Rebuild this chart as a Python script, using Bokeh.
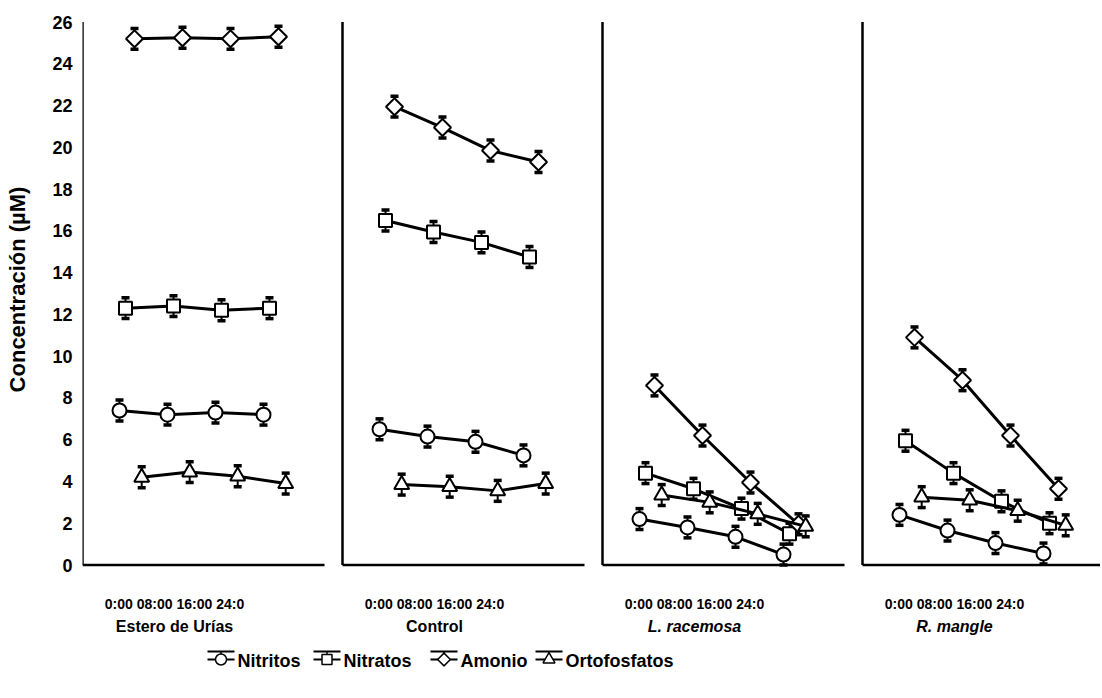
import math
from bokeh.plotting import figure
from bokeh.layouts import column
from bokeh.models import Range1d, FixedTicker, Whisker, TeeHead, ColumnDataSource
from bokeh.core.properties import value
from bokeh.embed import file_html
from bokeh.resources import INLINE

# ---------------- data ----------------
sites = ["Estero de Urías", "Control", "L. racemosa", "R. mangle"]
site_italic = [False, False, True, True]
time_labels = ["0:00", "08:00", "16:00", "24:0"]
hours = [0, 8, 16, 24]
series_names = ["Nitritos", "Nitratos", "Amonio", "Ortofosfatos"]

# values per site (Estero de Urías, Control, L. racemosa, R. mangle)
nitritos = [[7.4, 7.2, 7.3, 7.2],
            [6.5, 6.15, 5.9, 5.25],
            [2.2, 1.8, 1.35, 0.5],
            [2.4, 1.65, 1.05, 0.55]]
nitratos = [[12.3, 12.4, 12.2, 12.3],
            [16.5, 15.95, 15.45, 14.75],
            [4.4, 3.65, 2.7, 1.5],
            [5.95, 4.4, 3.05, 2.0]]
amonio = [[25.2, 25.25, 25.2, 25.3],
          [21.95, 20.95, 19.85, 19.3],
          [8.6, 6.2, 3.95, 1.95],
          [10.9, 8.85, 6.2, 3.65]]
ortofosfatos = [[4.2, 4.45, 4.25, 3.9],
                [3.85, 3.75, 3.55, 3.9],
                [3.35, 3.0, 2.45, 1.85],
                [3.25, 3.1, 2.6, 1.9]]
nitritos_err = [[0.5] * 4 for _ in range(4)]
nitratos_err = [[0.5] * 4 for _ in range(4)]
amonio_err = [[0.5] * 4 for _ in range(4)]
ortofosfatos_err = [[0.5] * 4 for _ in range(4)]

y_ticks = list(range(0, 27, 2))

# ---------------- layout constants ----------------
FONT = "Liberation Sans"
W = 1100
LEFT_PX = 82                 # frame left edge on page
PX = 6.0                     # screen px per hour
FRAME_W = W - LEFT_PX
PANEL_STEP = 260 / PX        # distance between panels (x units)
PANEL_W = 242 / PX
FIRST_OFF = 37 / PX          # first time point from panel edge
LABEL_OFF = 92 / PX          # centre of the panel captions from panel edge
H_TOP = 578
H_BOT = 118
PX_PER_Y = 20.88
Y0_PX = 564.5                # page y of value 0
TOP_BORDER = 0
Y_TOP = (Y0_PX - TOP_BORDER) / PX_PER_Y
Y_BOT = -(H_TOP - Y0_PX) / PX_PER_Y

series_vals = [nitritos, nitratos, amonio, ortofosfatos]
series_err = [nitritos_err, nitratos_err, amonio_err, ortofosfatos_err]
series_offset = [0.0, 1.0, 2.5, 3.7]
series_marker = ["circle", "square", "square", "triangle"]
series_angle = [0.0, 0.0, math.pi / 4, 0.0]
series_size = [14, 13, 12, 15]

xr = Range1d(0, FRAME_W / PX)

p = figure(width=W, height=H_TOP, output_backend="svg", toolbar_location=None,
           x_range=xr, y_range=Range1d(Y_BOT, Y_TOP),
           min_border_left=LEFT_PX, min_border_right=0, min_border_top=TOP_BORDER,
           min_border_bottom=0)
p.xaxis.visible = False
p.grid.visible = False
p.outline_line_color = None

yax = p.yaxis[0]
yax.ticker = FixedTicker(ticks=y_ticks)
yax.axis_line_color = None
yax.major_tick_line_color = None
yax.minor_tick_line_color = None
yax.major_tick_out = 0
yax.major_label_standoff = 10
yax.major_label_text_font = FONT
yax.major_label_text_font_style = "bold"
yax.major_label_text_font_size = "18px"
yax.major_label_text_color = "black"
yax.axis_label = "Concentración (µM)"
yax.axis_label_text_font = FONT
yax.axis_label_text_font_style = "bold"
yax.axis_label_text_font_size = "22px"
yax.axis_label_text_color = "black"
yax.axis_label_standoff = 19

# panel frames (vertical line at left + baseline)
lefts = [i * PANEL_STEP for i in range(len(sites))]
p.segment(x0=lefts, y0=[0] * 4, x1=lefts, y1=[26] * 4, line_color="black", line_width=2.5)
p.segment(x0=lefts, y0=[0] * 4, x1=[l + PANEL_W for l in lefts], y1=[0] * 4,
          line_color="black", line_width=2.5)

for i in range(len(sites)):
    base = lefts[i] + FIRST_OFF
    for k, name in enumerate(series_names):
        xs = [base + h + series_offset[k] for h in hours]
        ys = series_vals[k][i]
        es = series_err[k][i]
        src = ColumnDataSource(dict(x=xs, y=ys,
                                    upper=[y + e for y, e in zip(ys, es)],
                                    lower=[y - e for y, e in zip(ys, es)]))
        w = Whisker(base="x", upper="upper", lower="lower", source=src,
                    line_color="black", line_width=2,
                    upper_head=TeeHead(size=8, line_width=3.5, line_color="black"),
                    lower_head=TeeHead(size=8, line_width=3.5, line_color="black"),
                    level="underlay")
        p.add_layout(w)
        p.line("x", "y", source=src, line_color="black", line_width=3)
        p.scatter("x", "y", source=src, marker=series_marker[k], size=series_size[k],
                  angle=series_angle[k], fill_color="white", line_color="black",
                  line_width=2)

# ---------------- bottom strip: captions + legend ----------------
q = figure(width=W, height=H_BOT, output_backend="svg", toolbar_location=None,
           x_range=xr, y_range=Range1d(H_BOT, 0),
           min_border_left=LEFT_PX, min_border_right=0, min_border_top=0, min_border_bottom=0)
q.axis.visible = False
q.grid.visible = False
q.outline_line_color = None

ROW_TICKS = 603 - H_TOP
ROW_NAMES = 626 - H_TOP
tick_text = " ".join(time_labels)
label_x = [l + LABEL_OFF for l in lefts]
q.text(x=label_x, y=[ROW_TICKS] * 4, text=[tick_text] * 4, text_align="center",
       text_baseline="middle", text_font=value(FONT), text_font_style="bold",
       text_font_size="14px", text_color="black")
for italic in (False, True):
    xs = [label_x[i] for i in range(4) if site_italic[i] == italic]
    ts = [sites[i] for i in range(4) if site_italic[i] == italic]
    q.text(x=xs, y=[ROW_NAMES] * len(xs), text=ts, text_align="center", text_baseline="middle",
           text_font=value(FONT), text_font_style="bold italic" if italic else "bold",
           text_font_size="16px", text_color="black")

# legend (icon = error-bar cap + line + marker)
leg_icon_px = [207, 313, 430, 535]
ICON_W = 27
leg_x0 = [(v - LEFT_PX) / PX for v in leg_icon_px]
leg_x1 = [(v + ICON_W - LEFT_PX) / PX for v in leg_icon_px]
leg_xc = [(v + ICON_W / 2 - LEFT_PX) / PX for v in leg_icon_px]
leg_xt = [(v + ICON_W + 3 - LEFT_PX) / PX for v in leg_icon_px]
LEG_TOP, LEG_MID = 651 - H_TOP, 659 - H_TOP
q.segment(x0=leg_x0, y0=[LEG_TOP] * 4, x1=leg_x1, y1=[LEG_TOP] * 4, line_color="black", line_width=2)
q.segment(x0=leg_x0, y0=[LEG_MID] * 4, x1=leg_x1, y1=[LEG_MID] * 4, line_color="black", line_width=2)
q.segment(x0=leg_xc, y0=[LEG_TOP] * 4, x1=leg_xc, y1=[LEG_MID] * 4, line_color="black", line_width=1.5)
for k in range(4):
    q.scatter(x=[leg_xc[k]], y=[LEG_MID], marker=series_marker[k], size=series_size[k] - 3,
              angle=series_angle[k], fill_color="white", line_color="black", line_width=1.5)
q.text(x=leg_xt, y=[LEG_MID + 1] * 4, text=series_names, text_align="left",
       text_baseline="middle", text_font=value(FONT), text_font_style="bold",
       text_font_size="18px", text_color="black")

layout = column(p, q, spacing=0)
open("out.html", "w").write(file_html(layout, INLINE))
